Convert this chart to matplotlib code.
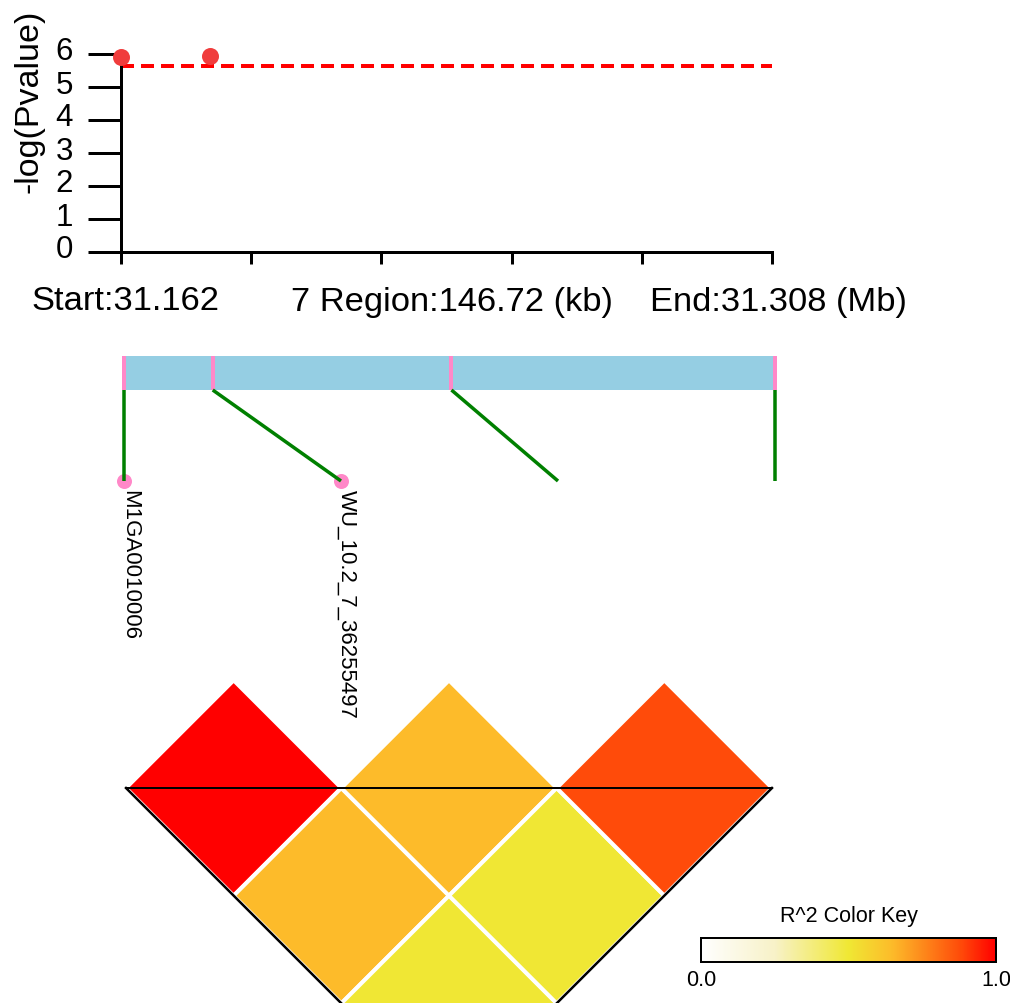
import numpy as np
import matplotlib
matplotlib.use("Agg")
import matplotlib.pyplot as plt
import matplotlib.transforms as mtrans
from matplotlib.colors import LinearSegmentedColormap
from matplotlib.patches import Polygon

plt.rcParams['font.family'] = ['Liberation Sans', 'DejaVu Sans']

# ---------------- data ----------------
chrom = "7"
start_mb = 31.162
end_mb = 31.308
region_kb = 146.72
snp_names = ["M1GA0010006", "WU_10.2_7_36255497", None, None]
snp_pos_kb = [0.0, 20.0, 73.8, 146.72]
snp_logp = [5.92, 5.93, np.nan, np.nan]
threshold = 5.65
# pairwise r^2 (upper triangle)
ld_r2 = [[np.nan, 1.00, 0.65, 0.50],
         [np.nan, np.nan, 0.65, 0.50],
         [np.nan, np.nan, np.nan, 0.88],
         [np.nan, np.nan, np.nan, np.nan]]
yticks = [0, 1, 2, 3, 4, 5, 6]

# colour key
cmap = LinearSegmentedColormap.from_list(
    "ldkey",
    [(0.0, "#FFFFFF"), (0.25, "#F8F2C8"), (0.5, "#F0E834"), (0.65, "#FDBB2A"),
     (0.88, "#FF4C0A"), (1.0, "#FF0000")])

W, H = 1010, 1004
fig = plt.figure(figsize=(W / 100, H / 100), dpi=100)

def px_rect(left, top, right, bottom):
    return [left / W, (H - bottom) / H, (right - left) / W, (bottom - top) / H]

PX = 0.72  # points per pixel

# ---------------- association panel ----------------
ax1 = fig.add_axes(px_rect(121, 55, 772, 253))
ax1.set_xlim(0, region_kb)
ax1.set_ylim(0, 6)
dlw = 4 * PX
ax1.axhline(threshold, color="#FF0000", lw=dlw,
            linestyle=(0, (13 * PX / dlw, 7 * PX / dlw)), zorder=2, clip_on=False)
ax1.plot(snp_pos_kb, snp_logp, "o", color="#F03C3C", markersize=17 * PX,
         markeredgewidth=0, zorder=3, clip_on=False)
for s in ["top", "right"]:
    ax1.spines[s].set_visible(False)
for s in ["left", "bottom"]:
    ax1.spines[s].set_linewidth(3 * PX)
ax1.set_yticks(yticks)
ax1.set_xticks(np.linspace(0, region_kb, 6))
ax1.set_xticklabels([])
ax1.tick_params(axis="y", length=33 * PX, width=3 * PX, labelsize=22.5, pad=15 * PX)
ax1.tick_params(axis="x", length=12 * PX, width=3 * PX)
off = mtrans.ScaledTranslation(0, 6 / 100, fig.dpi_scale_trans)
for lab in ax1.get_yticklabels():
    lab.set_transform(lab.get_transform() + off)
ax1.text((29 - 121) / 651, (253 - 101) / 198, "-log(Pvalue)", rotation=90,
         ha="center", va="center", fontsize=24.5, transform=ax1.transAxes)
ty = (253 - 302) / 198
for xv, txt, dx in [(0, f"Start:{start_mb:.3f}", 4),
                    (region_kb / 2, f"{chrom} Region:{region_kb:.2f} (kb)", 5),
                    (region_kb, f"End:{end_mb:.3f} (Mb)", 6)]:
    ax1.annotate(txt, (xv, ty), xycoords=("data", "axes fraction"),
                 xytext=(dx * PX, 0), textcoords="offset points",
                 ha="center", va="center", fontsize=24.8, annotation_clip=False)

# ---------------- heatmap axes (SNP index units) ----------------
n = len(snp_pos_kb)
unit_px = (772 - 126) / (n - 1)
axh = fig.add_axes(px_rect(126, 789 - 0.5 * unit_px, 772, 789 + (n - 1) / 2 * unit_px))
axh.set_xlim(0, n - 1)
axh.set_ylim(-(n - 1) / 2, 0.5)
axh.axis("off")
for i in range(n):
    for j in range(i + 1, n):
        v = ld_r2[i][j]
        cx = (i + j) / 2
        cy = -(j - i - 1) / 2
        poly = Polygon([(cx - 0.5, cy), (cx, cy + 0.5), (cx + 0.5, cy), (cx, cy - 0.5)],
                       closed=True, facecolor=cmap(v), edgecolor="white",
                       linewidth=4 * PX, clip_on=False, zorder=1)
        axh.add_patch(poly)
axh.plot([0, n - 1], [0, 0], color="black", lw=2 * PX, clip_on=False, zorder=3)
axh.plot([0, (n - 1) / 2, n - 1], [0, -(n - 1) / 2, 0], color="black", lw=2.5 * PX,
         clip_on=False, zorder=3)

# ---------------- gene track and links ----------------
axl = fig.add_axes(px_rect(124, 357, 775, 482))
axl.set_xlim(0, n - 1)
axl.set_ylim(0, 1)
axl.axis("off")
g = 2 / ((775 - 124) / (n - 1))
def kb_to_u(kb):
    return np.asarray(kb) / region_kb * (n - 1)
bar_bottom = (482 - 391) / 125
axl.barh((bar_bottom + 1) / 2, (n - 1) + 2 * g, left=-g,
         height=1 - bar_bottom, color="#95CEE3", zorder=1)
su = kb_to_u(snp_pos_kb)
axl.vlines(su, bar_bottom, 1, color="#FF88C8", lw=4 * PX, zorder=2, clip_on=False)
for k in range(n):
    axl.plot([su[k], k], [bar_bottom, 0], color="#008000", lw=3.5 * PX,
             solid_capstyle="butt", zorder=2, clip_on=False)
for k, name in enumerate(snp_names):
    if name is None:
        continue
    axl.plot([k], [0], "o", color="#FF88C8", markersize=15 * PX, markeredgewidth=0,
             zorder=1, clip_on=False)
    axl.annotate(name, (k, 0), xytext=(-5 * PX, -8 * PX), textcoords="offset points",
                 rotation=-90, ha="left", va="top", fontsize=16, annotation_clip=False)

# ---------------- colour key ----------------
axc = fig.add_axes(px_rect(701, 939, 996, 963))
grad = np.linspace(0, 1, 256)[None, :]
axc.imshow(grad, aspect="auto", cmap=cmap, extent=[0, 1, 0, 1], vmin=0, vmax=1)
axc.set_xlim(0, 1)
axc.set_ylim(0, 1)
axc.set_yticks([])
axc.set_xticks([0, 1])
axc.set_xticklabels(["0.0", "1.0"])
axc.tick_params(axis="x", length=0, labelsize=15.5, pad=5)
for s in axc.spines.values():
    s.set_linewidth(2 * PX)
axc.set_title("R^2 Color Key", fontsize=15.5, pad=12)

fig.savefig("out.png", dpi=100)
